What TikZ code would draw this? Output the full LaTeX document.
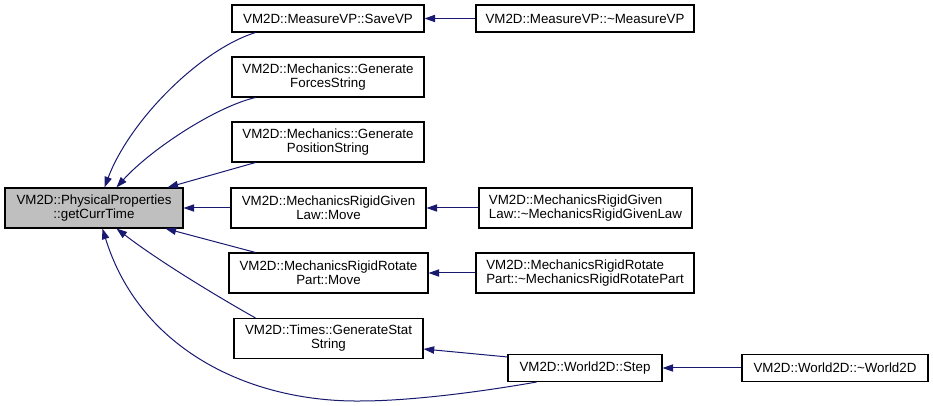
\documentclass[tikz,border=0pt]{standalone}
\usepackage{fontspec}
\setmainfont{Liberation Sans}
\usepackage{xcolor}
\usetikzlibrary{arrows.meta, calc}

\definecolor{edgeblue}{HTML}{191970}
\definecolor{rootgray}{HTML}{BFBFBF}

\begin{document}
\begin{tikzpicture}[x=0.75pt, y=-0.75pt,
  fnbox/.style={draw=black, line width=0.8pt, fill=white, align=center, inner sep=0pt,
    font=\fontsize{10}{10.5}\selectfont},
  onerow/.style={fnbox, minimum height=20.25pt},
  tworow/.style={fnbox, minimum height=30pt},
  calledge/.style={draw=edgeblue, line width=0.75pt, -{Triangle[length=8pt, width=5.5pt]}}]
  \useasboundingbox (0,0) rectangle (933,406);
  % function boxes
  \node[tworow, fill=rootgray, minimum width=133.5pt] (root) at (94,208) {VM2D::PhysicalProperties\\::getCurrTime};
  \node[onerow, minimum width=144pt] (saveVP) at (328,18.5) {VM2D::MeasureVP::SaveVP};
  \node[tworow, minimum width=144pt] (forces) at (328,77) {VM2D::Mechanics::Generate\\ForcesString};
  \node[tworow, minimum width=144pt] (position) at (328,142) {VM2D::Mechanics::Generate\\PositionString};
  \node[tworow, minimum width=146.25pt] (givenMove) at (328.5,208) {VM2D::MechanicsRigidGiven\\Law::Move};
  \node[tworow, minimum width=149.25pt] (rotateMove) at (328.5,273) {VM2D::MechanicsRigidRotate\\Part::Move};
  \node[tworow, minimum width=141.75pt] (genStat) at (328.5,338.5) {VM2D::Times::GenerateStat\\String};
  \node[onerow, minimum width=115.5pt] (step) at (585,368) {VM2D::World2D::Step};
  \node[onerow, minimum width=163.5pt] (dtorMeasure) at (585,18.5) {VM2D::MeasureVP::\textasciitilde MeasureVP};
  \node[tworow, align=left, minimum width=159.75pt] (dtorGiven) at (585.5,208) {VM2D::MechanicsRigidGiven\\Law::\textasciitilde MechanicsRigidGivenLaw};
  \node[tworow, align=left, minimum width=163.5pt] (dtorRotate) at (585,273) {VM2D::MechanicsRigidRotate\\Part::\textasciitilde MechanicsRigidRotatePart};
  \node[onerow, minimum width=139.5pt] (dtorWorld) at (835,368) {VM2D::World2D::\textasciitilde World2D};
  % calls into getCurrTime
  \draw[calledge] ($(saveVP.south west)+(24,0)$) .. controls (200,50) and (130,120) .. ($(root.north west)+(100,0)$);
  \draw[calledge] ($(forces.south west)+(24,0)$) .. controls (215,107) and (150,150) .. ($(root.north west)+(112,0)$);
  \draw[calledge] ($(position.south west)+(24,0)$) -- ($(root.north west)+(163,0)$);
  \draw[calledge] (givenMove) -- (root);
  \draw[calledge] ($(rotateMove.north west)+(27,0)$) -- ($(root.south west)+(161,0)$);
  \draw[calledge] ($(genStat.north west)+(22,0)$) .. controls (220,298) and (160,262) .. ($(root.south west)+(112,0)$);
  \draw[calledge] ($(step.south west)+(29,0)$) .. controls (480,392) and (410,401) .. (360,401)
    .. controls (250,402) and (140,350) .. ($(root.south west)+(98,0)$);
  % second level callers
  \draw[calledge] (dtorMeasure) -- (saveVP);
  \draw[calledge] (dtorGiven) -- (givenMove);
  \draw[calledge] (dtorRotate) -- (rotateMove);
  \draw[calledge] ($(step.north west)+(0,3)$) -- ($(genStat.east)+(0,10.5)$);
  \draw[calledge] (dtorWorld) -- (step);
\end{tikzpicture}
\end{document}
